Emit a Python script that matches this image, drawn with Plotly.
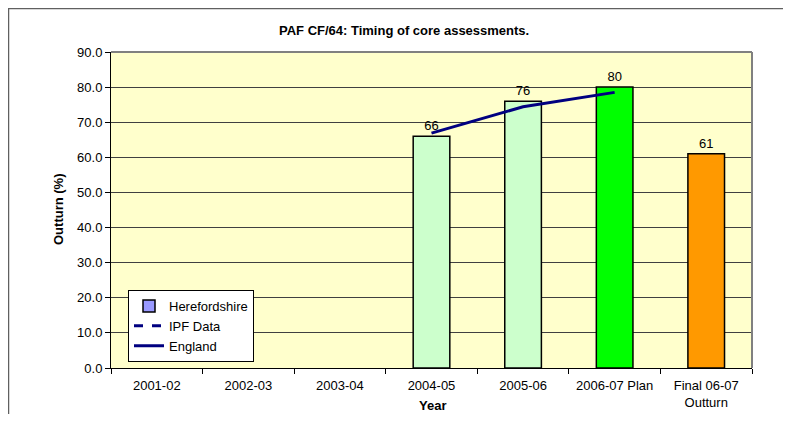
import plotly.graph_objects as go

categories = ["2001-02", "2002-03", "2003-04", "2004-05", "2005-06", "2006-07 Plan", "Final 06-07<br>Outturn"]
outturn = [None, None, None, 66, 76, 80, 61]
outturn_labels = ["", "", "", "66", "76", "80", "61"]
bar_colors = ["#CCFFCC", "#CCFFCC", "#CCFFCC", "#CCFFCC", "#CCFFCC", "#00FF00", "#FF9900"]
ipf_data = [None, None, None, None, None, None, None]
england = [None, None, None, 66.9, 74.4, 78.5, None]
herefordshire_legend = [None] * 7

FONT = "Arial, Liberation Sans, sans-serif"
FS = 13

fig = go.Figure()
fig.add_trace(go.Bar(
    x=categories, y=outturn, width=0.4,
    marker=dict(color=bar_colors, line=dict(color="black", width=1.5)),
    text=outturn_labels, textposition="outside", cliponaxis=False,
    textfont=dict(family=FONT, size=FS, color="black"),
    showlegend=False, hoverinfo="x+y",
))
fig.add_trace(go.Bar(
    x=categories, y=herefordshire_legend, name="Herefordshire",
    marker=dict(color="#9999FF", line=dict(color="black", width=1.5)),
))
fig.add_trace(go.Scatter(
    x=categories, y=ipf_data, name="IPF Data", mode="lines",
    line=dict(color="#000080", width=3, dash="dash"),
))
fig.add_trace(go.Scatter(
    x=categories, y=england, name="England", mode="lines",
    line=dict(color="#000080", width=3),
))

# The page body has an 8px margin, so the figure starts at screen (8, 8).
OFF = 8
W, H = 791 - 2 * OFF, 422 - 2 * OFF
PL, PR, PT, PB = 111, 752, 52, 368  # plot area in screen pixels
L, T = PL - OFF, PT - OFF
R, B = W - (PR - OFF), H - (PB - OFF)
pw, ph = PR - PL, PB - PT

def px(x):
    return (x - PL) / pw

def py(y):
    return (PB - y) / ph

fig.update_layout(
    width=W, height=H,
    margin=dict(l=L, r=R, t=T, b=B, pad=0, autoexpand=False),
    paper_bgcolor="white", plot_bgcolor="#FFFFCC",
    barmode="overlay",
    font=dict(family=FONT, size=FS, color="black"),
    showlegend=True,
    legend=dict(
        x=px(128), y=py(290), xanchor="left", yanchor="top",
        bgcolor="white", bordercolor="black", borderwidth=1,
        font=dict(family=FONT, size=FS, color="black"),
        tracegroupgap=0, itemwidth=30,
    ),
    xaxis=dict(
        type="category", range=[-0.5, 6.5], automargin=False,
        showline=True, linecolor="black", linewidth=1,
        ticks="outside", ticklen=5, tickcolor="black", tickson="boundaries",
        ticklabelstandoff=5,
        showgrid=False, tickfont=dict(family=FONT, size=FS, color="black"),
    ),
    yaxis=dict(
        range=[0, 90], dtick=10, tickformat=".1f", automargin=False,
        showline=True, linecolor="black", linewidth=1,
        ticks="outside", ticklen=5, tickcolor="black",
        showgrid=True, gridcolor="#404040", gridwidth=1,
        zeroline=False,
        tickfont=dict(family=FONT, size=FS, color="black"),
    ),
    shapes=[
        dict(type="line", xref="paper", yref="paper", x0=0, x1=1, y0=1, y1=1,
             line=dict(color="#808080", width=2)),
        dict(type="line", xref="paper", yref="paper", x0=1, x1=1, y0=0, y1=1,
             line=dict(color="#808080", width=2)),
        dict(type="rect", xref="paper", yref="paper", x0=px(8.5), x1=px(830), y0=py(460), y1=py(8.5),
             line=dict(color="#606060", width=1.5), fillcolor="rgba(0,0,0,0)", layer="below"),
    ],
    annotations=[
        dict(text="<b>PAF CF/64: Timing of core assessments.</b>", xref="paper", yref="paper",
             x=px(404), y=py(30), showarrow=False, xanchor="center", yanchor="middle",
             font=dict(family=FONT, size=FS, color="black")),
        dict(text="<b>Outturn (%)</b>", xref="paper", yref="paper", textangle=-90,
             x=px(58), y=py(210), showarrow=False, xanchor="center", yanchor="middle",
             font=dict(family=FONT, size=FS, color="black")),
        dict(text="<b>Year</b>", xref="paper", yref="paper",
             x=px(432), y=py(414), showarrow=False, xanchor="center", yanchor="bottom",
             borderpad=0, font=dict(family=FONT, size=FS, color="black")),
    ],
)

fig.write_html("out.html")
